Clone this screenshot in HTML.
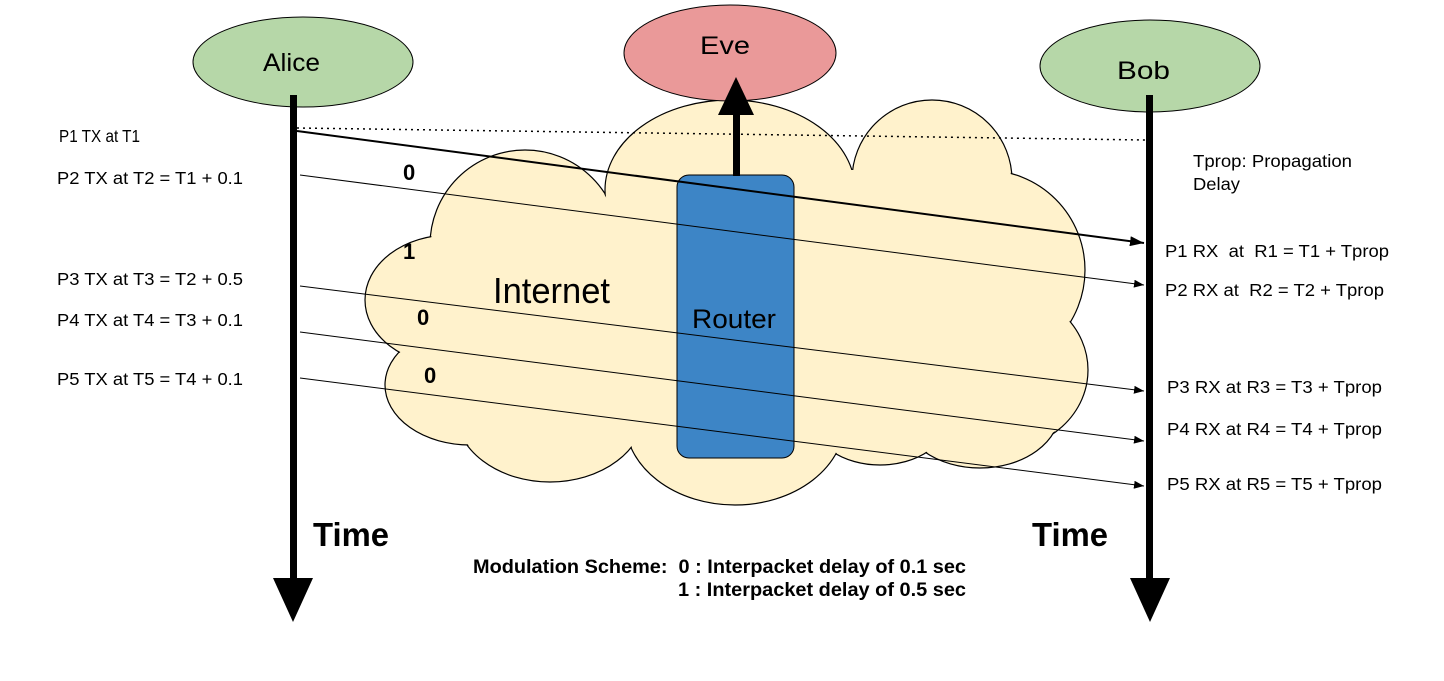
<!DOCTYPE html>
<html><head><meta charset="utf-8"><style>
html,body{margin:0;padding:0;background:#fff;}
svg{display:block;font-family:"Liberation Sans",Arial,sans-serif;}
text{white-space:pre;}
</style></head><body>
<svg width="1444" height="681" viewBox="0 0 1444 681" xmlns="http://www.w3.org/2000/svg">
<defs>
<marker id="ah" markerWidth="10" markerHeight="8" refX="10" refY="4" orient="auto" markerUnits="userSpaceOnUse"><path d="M0,0 L10,4 L0,8 z" fill="#000"/></marker>
<marker id="ahb" markerWidth="14" markerHeight="10" refX="14" refY="5" orient="auto" markerUnits="userSpaceOnUse"><path d="M0,0 L14,5 L0,10 z" fill="#000"/></marker>
</defs>
<g fill="#fff2cc" stroke="#000" stroke-width="1.2">
<ellipse cx="525" cy="245" rx="95" ry="95"/>
<ellipse cx="730" cy="190" rx="125" ry="90"/>
<ellipse cx="932" cy="180" rx="80" ry="80"/>
<ellipse cx="985" cy="270" rx="100" ry="100"/>
<ellipse cx="1000" cy="370" rx="88" ry="80"/>
<ellipse cx="980" cy="410" rx="80" ry="58"/>
<ellipse cx="880" cy="415" rx="70" ry="50"/>
<ellipse cx="735" cy="420" rx="110" ry="85"/>
<ellipse cx="550" cy="410" rx="95" ry="72"/>
<ellipse cx="470" cy="385" rx="85" ry="60"/>
<ellipse cx="450" cy="300" rx="85" ry="65"/>
</g>
<g fill="#fff2cc">
<ellipse cx="525" cy="245" rx="94" ry="94"/>
<ellipse cx="730" cy="190" rx="124" ry="89"/>
<ellipse cx="932" cy="180" rx="79" ry="79"/>
<ellipse cx="985" cy="270" rx="99" ry="99"/>
<ellipse cx="1000" cy="370" rx="87" ry="79"/>
<ellipse cx="980" cy="410" rx="79" ry="57"/>
<ellipse cx="880" cy="415" rx="69" ry="49"/>
<ellipse cx="735" cy="420" rx="109" ry="84"/>
<ellipse cx="550" cy="410" rx="94" ry="71"/>
<ellipse cx="470" cy="385" rx="84" ry="59"/>
<ellipse cx="450" cy="300" rx="84" ry="64"/>
<rect x="480" y="220" width="520" height="200"/>
<rect x="620" y="170" width="380" height="100"/>
</g>
<ellipse cx="303" cy="62" rx="110" ry="45" fill="#b6d7a8" stroke="#000" stroke-width="1"/>
<ellipse cx="1150" cy="66" rx="110" ry="46" fill="#b6d7a8" stroke="#000" stroke-width="1"/>
<ellipse cx="730" cy="53" rx="106" ry="48" fill="#ea9999" stroke="#000" stroke-width="1"/>
<text x="263" y="71" font-size="25" textLength="57" lengthAdjust="spacingAndGlyphs">Alice</text>
<text x="1117" y="79" font-size="25" textLength="53" lengthAdjust="spacingAndGlyphs">Bob</text>
<text x="700" y="54" font-size="25" textLength="50" lengthAdjust="spacingAndGlyphs">Eve</text>
<rect x="677" y="175" width="117" height="283" rx="12" fill="#3d85c6" stroke="#000" stroke-width="1"/>
<text x="692" y="328" font-size="27" textLength="84" lengthAdjust="spacingAndGlyphs">Router</text>
<text x="493" y="303" font-size="36" textLength="117" lengthAdjust="spacingAndGlyphs">Internet</text>
<rect x="733" y="110" width="7" height="66" fill="#000"/>
<path d="M718,115 L736,77 L754,115 z" fill="#000"/>
<rect x="290" y="95" width="7" height="490" fill="#000"/>
<path d="M273,578 L293,622 L313,578 z" fill="#000"/>
<rect x="1146" y="95" width="7" height="490" fill="#000"/>
<path d="M1130,578 L1150,622 L1170,578 z" fill="#000"/>
<line x1="297" y1="128" x2="1145" y2="140" stroke="#000" stroke-width="1.5" stroke-dasharray="2,4"/>
<line x1="297" y1="131" x2="1144" y2="243" stroke="#000" stroke-width="2" marker-end="url(#ahb)"/>
<line x1="300" y1="175" x2="1144" y2="285" stroke="#000" stroke-width="1" marker-end="url(#ah)"/>
<line x1="300" y1="286" x2="1144" y2="391" stroke="#000" stroke-width="1" marker-end="url(#ah)"/>
<line x1="300" y1="332" x2="1144" y2="441" stroke="#000" stroke-width="1" marker-end="url(#ah)"/>
<line x1="300" y1="378" x2="1144" y2="486" stroke="#000" stroke-width="1" marker-end="url(#ah)"/>
<g font-size="22" font-weight="bold">
<text x="403" y="180">0</text>
<text x="403" y="259">1</text>
<text x="417" y="325">0</text>
<text x="424" y="383">0</text>
</g>
<g font-size="17.5">
<text x="59" y="142" textLength="81" lengthAdjust="spacingAndGlyphs">P1 TX at T1</text>
<text x="57" y="184" textLength="186" lengthAdjust="spacingAndGlyphs">P2 TX at T2 = T1 + 0.1</text>
<text x="57" y="285" textLength="186" lengthAdjust="spacingAndGlyphs">P3 TX at T3 = T2 + 0.5</text>
<text x="57" y="326" textLength="186" lengthAdjust="spacingAndGlyphs">P4 TX at T4 = T3 + 0.1</text>
<text x="57" y="385" textLength="186" lengthAdjust="spacingAndGlyphs">P5 TX at T5 = T4 + 0.1</text>
<text x="1193" y="167" textLength="159" lengthAdjust="spacingAndGlyphs">Tprop: Propagation</text>
<text x="1193" y="190" textLength="47" lengthAdjust="spacingAndGlyphs">Delay</text>
<text x="1165" y="257" textLength="224" lengthAdjust="spacingAndGlyphs">P1 RX  at  R1 = T1 + Tprop</text>
<text x="1165" y="296" textLength="219" lengthAdjust="spacingAndGlyphs">P2 RX at  R2 = T2 + Tprop</text>
<text x="1167" y="393" textLength="215" lengthAdjust="spacingAndGlyphs">P3 RX at R3 = T3 + Tprop</text>
<text x="1167" y="435" textLength="215" lengthAdjust="spacingAndGlyphs">P4 RX at R4 = T4 + Tprop</text>
<text x="1167" y="490" textLength="215" lengthAdjust="spacingAndGlyphs">P5 RX at R5 = T5 + Tprop</text>
</g>
<g font-size="33" font-weight="bold">
<text x="313" y="546" textLength="76" lengthAdjust="spacingAndGlyphs">Time</text>
<text x="1032" y="546" textLength="76" lengthAdjust="spacingAndGlyphs">Time</text>
</g>
<g font-size="19" font-weight="bold">
<text x="473" y="573" textLength="493" lengthAdjust="spacingAndGlyphs">Modulation Scheme:  0 : Interpacket delay of 0.1 sec</text>
<text x="678" y="596" textLength="288" lengthAdjust="spacingAndGlyphs">1 : Interpacket delay of 0.5 sec</text>
</g>
</svg>
</body></html>
